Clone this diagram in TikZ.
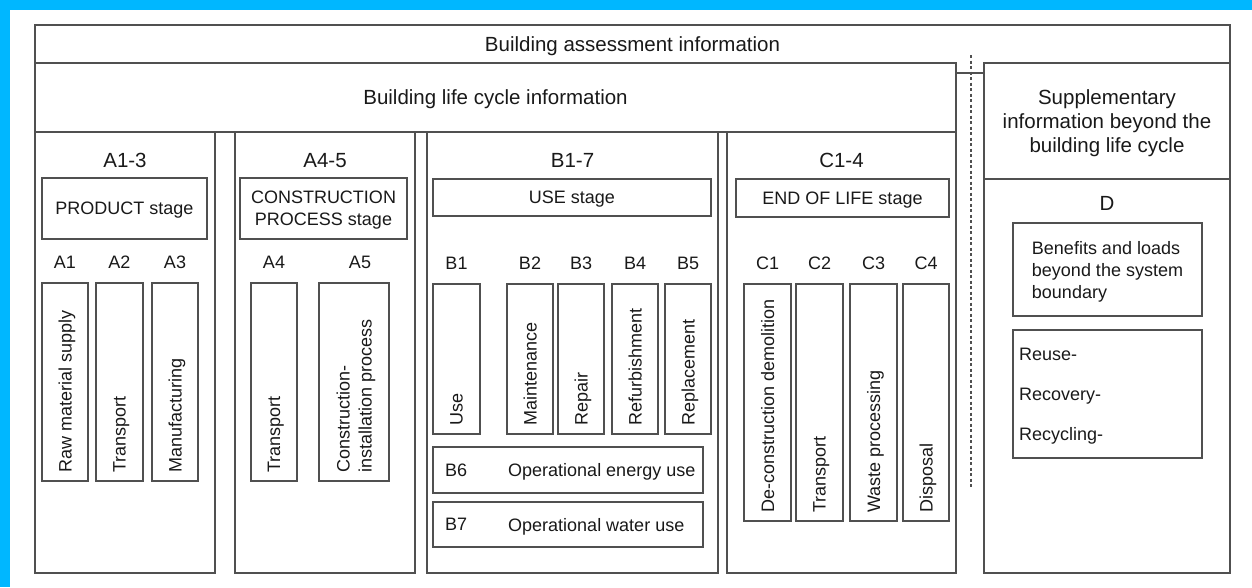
\documentclass[tikz,border=0pt]{standalone}
\usepackage{fontspec}
\setmainfont{Liberation Sans}
\usetikzlibrary{positioning}
\definecolor{frameblue}{RGB}{0,183,255}
\definecolor{linegrey}{RGB}{80,80,80}
\definecolor{inkgrey}{RGB}{25,25,25}
\newcommand{\headfont}{\fontsize{20.5pt}{24pt}\selectfont}
\newcommand{\stagefont}{\fontsize{18pt}{22pt}\selectfont}
\tikzset{frame/.style={draw=linegrey, line width=1.3pt}}
\tikzset{cell/.style 2 args={frame, inner sep=0pt, outer sep=0pt, minimum width=#1pt, minimum height=#2pt, text=inkgrey, font=\stagefont, align=center, text depth=0pt}}
\tikzset{head/.style={inner sep=0pt, text=inkgrey, font=\headfont, align=center, text depth=0pt}}
\tikzset{tag/.style={inner sep=0pt, text=inkgrey, font=\stagefont, text depth=0pt}}
\tikzset{vtext/.style={tag, rotate=90, anchor=west, align=left}}
\tikzset{dashline/.style={draw=linegrey, line width=1.1pt, dash pattern=on 3pt off 2.5pt}}

\begin{document}
\begin{tikzpicture}[x=1pt, y=-1pt]
\useasboundingbox (0,0) rectangle (1252,587);
\fill[frameblue] (0,0) rectangle (1252,10);
\fill[frameblue] (0,0) rectangle (10,587);

% assessment frame
\node[cell={921}{69}, font=\headfont] (life) at (495.5,97.5) {Building life cycle information};
\node[cell={246}{116}, font=\headfont] (supp) at (1107,121) {Supplementary\\information beyond the\\building life cycle};
\draw[frame] (life.north west) -- (35,25) -- (1230,25) -- (supp.north east);
\node[head] (assess) at (632.5,44) {Building assessment information};
\draw[frame] ([yshift=-10pt]life.north east) -- ([yshift=-10pt]supp.north west);
\coordinate (cut top) at (971,55);
\coordinate (cut bottom) at (971,489);
\draw[dashline] (cut top) -- (cut bottom);

% A1-3
\node[cell={180}{441}] (a13) at (125,352.5) {};
\node[head] (a13t) at ([yshift=-28pt]a13.north) {A1-3};
\node[cell={165}{61}] (prod) at (124.5,208.5) {PRODUCT stage};
\node[cell={46}{198}] (a1) at (65,382) {};
\node[cell={47}{198}] (a2) at (119.5,382) {};
\node[cell={46}{198}] (a3) at (175,382) {};
\node[tag, above=14pt of a1] (a1l) {A1};
\node[tag, above=14pt of a2] (a2l) {A2};
\node[tag, above=14pt of a3] (a3l) {A3};
\node[vtext] (a1t) at ([yshift=8pt]a1.south) {Raw material supply};
\node[vtext] (a2t) at ([yshift=8pt]a2.south) {Transport};
\node[vtext] (a3t) at ([yshift=8pt]a3.south) {Manufacturing};

% A4-5
\node[cell={180}{441}] (a45) at (325,352.5) {};
\node[head] (a45t) at ([yshift=-28pt]a45.north) {A4-5};
\node[cell={167}{61}] (cons) at (323.5,208.5) {CONSTRUCTION\\PROCESS stage};
\node[cell={46}{198}] (a4) at (274,382) {};
\node[cell={70}{198}] (a5) at (354,382) {};
\node[tag, above=14pt of a4] (a4l) {A4};
\node[tag, above=14pt of a5, xshift=6pt] (a5l) {A5};
\node[vtext] (a4t) at ([yshift=8pt]a4.south) {Transport};
\node[vtext] (a5t) at ([yshift=8pt]a5.south) {Construction-\\installation process};

% B1-7
\node[cell={291}{441}] (b17) at (572.5,352.5) {};
\node[head] (b17t) at ([yshift=-28pt]b17.north) {B1-7};
\node[cell={278}{37}] (use) at (572,197.5) {USE stage};
\node[cell={47}{150}] (b1) at (456.5,359) {};
\node[cell={46}{150}] (b2) at (530,359) {};
\node[cell={46}{150}] (b3) at (581,359) {};
\node[cell={46}{150}] (b4) at (635,359) {};
\node[cell={46}{150}] (b5) at (688,359) {};
\node[tag, above=14pt of b1] (b1l) {B1};
\node[tag, above=14pt of b2] (b2l) {B2};
\node[tag, above=14pt of b3] (b3l) {B3};
\node[tag, above=14pt of b4] (b4l) {B4};
\node[tag, above=14pt of b5] (b5l) {B5};
\node[vtext] (b1t) at ([yshift=8pt]b1.south) {Use};
\node[vtext] (b2t) at ([yshift=8pt]b2.south) {Maintenance};
\node[vtext] (b3t) at ([yshift=8pt]b3.south) {Repair};
\node[vtext] (b4t) at ([yshift=8pt]b4.south) {Refurbishment};
\node[vtext] (b5t) at ([yshift=8pt]b5.south) {Replacement};
\node[cell={270}{46}] (b6) at (568,470) {};
\node[cell={270}{45}] (b7) at (568,524.5) {};
\node[tag, anchor=west] (b6l) at ([xshift=12pt]b6.west) {B6};
\node[tag, anchor=west] (b6t) at ([xshift=75pt]b6.west) {Operational energy use};
\node[tag, anchor=west] (b7l) at ([xshift=12pt]b7.west) {B7};
\node[tag, anchor=west] (b7t) at ([xshift=75pt]b7.west) {Operational water use};

% C1-4
\node[cell={229}{441}] (c14) at (841.5,352.5) {};
\node[head] (c14t) at ([yshift=-28pt]c14.north) {C1-4};
\node[cell={213}{38}] (eol) at (842.5,198) {END OF LIFE stage};
\node[cell={47}{237}] (c1) at (767.5,402.5) {};
\node[cell={47}{237}] (c2) at (819.5,402.5) {};
\node[cell={47}{237}] (c3) at (873.5,402.5) {};
\node[cell={46}{237}] (c4) at (926,402.5) {};
\node[tag, above=14pt of c1] (c1l) {C1};
\node[tag, above=14pt of c2] (c2l) {C2};
\node[tag, above=14pt of c3] (c3l) {C3};
\node[tag, above=14pt of c4] (c4l) {C4};
\node[vtext] (c1t) at ([yshift=8pt]c1.south) {De-construction demolition};
\node[vtext] (c2t) at ([yshift=8pt]c2.south) {Transport};
\node[vtext] (c3t) at ([yshift=8pt]c3.south) {Waste processing};
\node[vtext] (c4t) at ([yshift=8pt]c4.south) {Disposal};

% D
\node[cell={246}{394}] (dcol) at (1107,376) {};
\node[head] (dt) at ([yshift=-24pt]dcol.north) {D};
\node[cell={189}{93}, align=left] (ben) at (1107.5,269.5) {Benefits and loads\\beyond the system\\boundary};
\node[cell={189}{128}] (rec) at (1107.5,394) {};
\node[tag, anchor=west] (reuse) at ([xshift=6pt, yshift=-24pt]rec.north west) {Reuse-};
\node[tag, anchor=west] (recov) at ([yshift=-40pt]reuse.west) {Recovery-};
\node[tag, anchor=west] (recyc) at ([yshift=-40pt]recov.west) {Recycling-};
\end{tikzpicture}
\end{document}
